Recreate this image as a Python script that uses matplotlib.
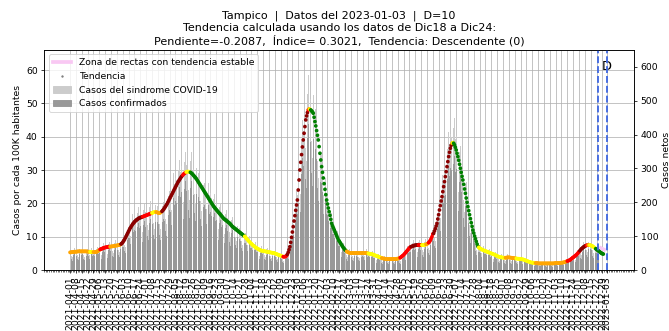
import matplotlib
matplotlib.use("Agg")
import matplotlib.pyplot as plt
import matplotlib.dates as mdates
from matplotlib.lines import Line2D
from matplotlib.patches import Patch
import numpy as np
import pandas as pd

ciudad = "Tampico"
fecha_datos = "2023-01-03"
fecha_corte = "2022-12-24"
inicio = "2021-04-01"
fin_ticks = "2022-12-29"
habitantes = 985000

# tendencia diaria (casos por cada 100K), desde 2021-04-01
tendencia = [
    5.3, 5.3, 5.4, 5.4, 5.4, 5.5, 5.5,
    5.5, 5.5, 5.6, 5.6, 5.6, 5.6, 5.6,
    5.6, 5.6, 5.6, 5.6, 5.6, 5.6, 5.6,
    5.5, 5.5, 5.5, 5.5, 5.4, 5.4, 5.4,
    5.4, 5.4, 5.4, 5.4, 5.5, 5.6, 5.8,
    6.0, 6.2, 6.3, 6.4, 6.5, 6.6, 6.7,
    6.8, 6.8, 6.9, 6.9, 7.0, 7.0, 7.0,
    7.1, 7.1, 7.1, 7.2, 7.2, 7.3, 7.3,
    7.4, 7.4, 7.5, 7.5, 7.6, 7.8, 8.0,
    8.3, 8.7, 9.1, 9.6, 10.1, 10.6, 11.1,
    11.6, 12.1, 12.6, 13.0, 13.4, 13.8, 14.1,
    14.4, 14.7, 14.9, 15.1, 15.3, 15.5, 15.6,
    15.7, 15.8, 15.9, 16.0, 16.1, 16.2, 16.3,
    16.4, 16.5, 16.6, 16.7, 16.8, 16.9, 17.0,
    17.1, 17.2, 17.3, 17.4, 17.4, 17.4, 17.3,
    17.2, 17.1, 17.1, 17.2, 17.4, 17.6, 17.9,
    18.2, 18.6, 19.0, 19.4, 19.8, 20.3, 20.8,
    21.3, 21.8, 22.3, 22.8, 23.3, 23.8, 24.3,
    24.8, 25.3, 25.8, 26.3, 26.7, 27.1, 27.5,
    27.9, 28.2, 28.5, 28.8, 29.0, 29.2, 29.4,
    29.5, 29.5, 29.5, 29.4, 29.3, 29.1, 28.9,
    28.6, 28.3, 28.0, 27.7, 27.4, 27.0, 26.6,
    26.2, 25.8, 25.4, 25.0, 24.6, 24.2, 23.8,
    23.4, 23.0, 22.6, 22.2, 21.8, 21.4, 21.0,
    20.6, 20.2, 19.8, 19.4, 19.0, 18.7, 18.4,
    18.1, 17.8, 17.5, 17.2, 16.9, 16.6, 16.3,
    16.0, 15.7, 15.4, 15.2, 15.0, 14.8, 14.6,
    14.4, 14.2, 14.0, 13.7, 13.4, 13.1, 12.9,
    12.7, 12.5, 12.3, 12.1, 11.9, 11.7, 11.5,
    11.3, 11.1, 10.9, 10.7, 10.5, 10.3, 10.1,
    9.8, 9.5, 9.2, 8.9, 8.6, 8.4, 8.1,
    7.9, 7.6, 7.4, 7.2, 7.0, 6.8, 6.6,
    6.5, 6.3, 6.2, 6.0, 5.9, 5.8, 5.8,
    5.7, 5.7, 5.6, 5.6, 5.5, 5.5, 5.4,
    5.4, 5.3, 5.3, 5.2, 5.2, 5.1, 5.1,
    5.0, 4.9, 4.8, 4.7, 4.6, 4.5, 4.4,
    4.3, 4.2, 4.1, 4.0, 4.0, 4.0, 4.1,
    4.3, 4.7, 5.3, 6.1, 7.0, 8.3, 9.8,
    11.4, 13.0, 14.7, 16.3, 17.9, 19.5, 21.0,
    24.0, 27.0, 30.0, 32.3, 34.6, 36.9, 39.0,
    41.0, 43.0, 45.0, 46.2, 47.2, 48.0, 48.3,
    48.2, 48.0, 47.7, 47.4, 47.0, 45.8, 44.5,
    43.2, 41.8, 40.4, 39.0, 37.0, 35.0, 33.0,
    31.0, 29.3, 27.6, 25.9, 24.2, 22.6, 21.0,
    19.8, 18.6, 17.5, 16.4, 15.2, 14.0, 13.3,
    12.7, 12.1, 11.5, 10.9, 10.3, 9.7, 9.1,
    8.7, 8.3, 7.9, 7.5, 7.1, 6.7, 6.4,
    6.1, 5.8, 5.6, 5.4, 5.3, 5.2, 5.1,
    5.1, 5.1, 5.1, 5.1, 5.1, 5.1, 5.1,
    5.1, 5.1, 5.1, 5.1, 5.1, 5.1, 5.1,
    5.1, 5.1, 5.1, 5.1, 5.1, 5.1, 5.0,
    5.0, 4.9, 4.9, 4.8, 4.8, 4.7, 4.6,
    4.5, 4.4, 4.3, 4.2, 4.1, 4.0, 3.9,
    3.8, 3.7, 3.6, 3.5, 3.5, 3.4, 3.4,
    3.3, 3.3, 3.3, 3.3, 3.3, 3.3, 3.3,
    3.3, 3.3, 3.3, 3.3, 3.3, 3.3, 3.4,
    3.4, 3.5, 3.6, 3.7, 3.9, 4.1, 4.3,
    4.5, 4.8, 5.1, 5.4, 5.7, 6.0, 6.3,
    6.6, 6.9, 7.0, 7.1, 7.2, 7.3, 7.4,
    7.4, 7.5, 7.5, 7.5, 7.5, 7.5, 7.5,
    7.5, 7.5, 7.5, 7.5, 7.5, 7.6, 7.7,
    7.8, 8.0, 8.2, 8.5, 8.9, 9.4, 10.0,
    10.8, 11.0, 11.7, 12.4, 13.2, 14.0, 15.3,
    16.6, 18.0, 19.3, 20.7, 22.0, 23.5, 25.0,
    26.5, 28.0, 29.5, 31.0, 32.5, 34.0, 35.3,
    36.5, 37.4, 38.0, 38.2, 38.0, 37.5, 36.8,
    36.0, 35.0, 34.0, 32.9, 31.7, 30.5, 29.3,
    28.1, 27.0, 25.7, 24.3, 23.0, 21.6, 20.3,
    19.0, 17.8, 16.6, 15.4, 14.2, 13.1, 12.0,
    11.1, 10.2, 9.4, 8.6, 7.8, 7.1, 6.8,
    6.6, 6.4, 6.3, 6.1, 6.0, 5.9, 5.8,
    5.7, 5.6, 5.5, 5.4, 5.3, 5.2, 5.1,
    5.0, 4.9, 4.8, 4.7, 4.6, 4.5, 4.3,
    4.2, 4.1, 4.0, 3.9, 3.9, 3.8, 3.8,
    3.7, 3.7, 3.7, 3.7, 3.7, 3.8, 3.8,
    3.8, 3.8, 3.7, 3.7, 3.6, 3.6, 3.6,
    3.5, 3.5, 3.5, 3.4, 3.4, 3.4, 3.3,
    3.3, 3.3, 3.2, 3.2, 3.1, 3.0, 2.9,
    2.8, 2.7, 2.6, 2.5, 2.4, 2.3, 2.3,
    2.2, 2.2, 2.2, 2.1, 2.1, 2.1, 2.1,
    2.0, 2.0, 2.0, 2.0, 2.0, 2.0, 2.0,
    2.0, 2.0, 2.0, 2.0, 2.0, 2.0, 2.0,
    2.0, 2.0, 2.0, 2.0, 2.0, 2.0, 2.1,
    2.1, 2.1, 2.1, 2.1, 2.1, 2.1, 2.2,
    2.2, 2.2, 2.3, 2.3, 2.4, 2.5, 2.6,
    2.7, 2.8, 2.9, 3.0, 3.2, 3.4, 3.6,
    3.8, 4.0, 4.2, 4.4, 4.6, 4.9, 5.2,
    5.5, 5.8, 6.1, 6.4, 6.6, 6.8, 7.0,
    7.2, 7.3, 7.4, 7.5, 7.5, 7.5, 7.5,
    7.4, 7.3, 7.2, 7.0, 6.8, 6.6, 6.4,
    6.2, 6.0, 5.8, 5.6, 5.4, 5.2, 5.0,
    4.9, 4.8,
]

# clasificacion de la tendencia: fecha en que empieza cada tramo
tramo_inicio = [
    "2021-04-01", "2021-04-25", "2021-04-29", "2021-05-07", "2021-05-19",
    "2021-06-01", "2021-06-27", "2021-07-08", "2021-07-13", "2021-07-20",
    "2021-08-14", "2021-08-18", "2021-08-23", "2021-10-27", "2021-12-12",
    "2021-12-17", "2022-01-11", "2022-01-12", "2022-01-13", "2022-01-14",
    "2022-02-26", "2022-03-24", "2022-04-09", "2022-05-01", "2022-05-14",
    "2022-05-23", "2022-05-27", "2022-06-01", "2022-06-04", "2022-06-10",
    "2022-07-02", "2022-07-03", "2022-07-04", "2022-08-03", "2022-09-04",
    "2022-09-17", "2022-10-10", "2022-11-17", "2022-12-02", "2022-12-10",
    "2022-12-12", "2022-12-14", "2022-12-21",
]
tramo_clase = [
    "estable", "meseta", "estable", "sube", "estable",
    "sube_fuerte", "sube", "meseta", "estable", "sube_fuerte",
    "sube", "meseta", "baja", "meseta", "sube",
    "sube_fuerte", "sube", "estable", "meseta", "baja",
    "estable", "meseta", "estable", "sube", "sube_fuerte",
    "sube", "meseta", "estable", "sube", "sube_fuerte",
    "estable", "meseta", "baja", "meseta", "estable",
    "meseta", "estable", "sube", "sube_fuerte", "sube",
    "estable", "meseta", "baja",
]
colores_clase = {"estable": "orange", "meseta": "yellow", "sube": "red",
                 "sube_fuerte": "darkred", "baja": "green"}

# casos netos diarios, desde 2021-04-01 (semanas de jueves a miercoles)
casos_sindrome = [
    58, 56, 43, 38, 59, 66, 58, 61, 58, 45, 39, 62, 67, 59,
    60, 61, 44, 40, 63, 66, 57, 61, 58, 44, 39, 59, 65, 57,
    59, 57, 43, 38, 61, 67, 61, 66, 65, 50, 45, 72, 79, 70,
    75, 71, 55, 48, 77, 84, 74, 78, 75, 57, 50, 79, 88, 77,
    81, 78, 60, 53, 84, 94, 84, 91, 91, 73, 67, 111, 127, 117,
    128, 127, 101, 91, 147, 166, 148, 158, 154, 119, 106, 168, 186, 164,
    173, 166, 127, 112, 177, 194, 171, 180, 173, 133, 117, 185, 203, 179,
    188, 181, 138, 122, 191, 209, 182, 189, 180, 137, 120, 191, 211, 188,
    200, 195, 152, 136, 218, 244, 218, 234, 229, 178, 160, 256, 286, 255,
    273, 266, 206, 184, 294, 325, 289, 307, 296, 228, 202, 319, 350, 309,
    325, 310, 236, 206, 322, 349, 303, 315, 297, 224, 194, 301, 324, 279,
    288, 271, 203, 175, 271, 290, 250, 257, 242, 181, 155, 240, 257, 221,
    227, 212, 158, 136, 209, 224, 193, 199, 187, 140, 120, 186, 199, 171,
    176, 165, 123, 106, 165, 178, 153, 158, 149, 112, 96, 147, 157, 135,
    140, 131, 98, 85, 131, 140, 121, 124, 117, 87, 75, 116, 124, 106,
    108, 100, 74, 62, 95, 101, 85, 87, 80, 59, 50, 77, 82, 69,
    72, 66, 50, 42, 65, 70, 61, 63, 60, 45, 39, 61, 66, 57,
    59, 56, 42, 36, 57, 61, 54, 55, 51, 38, 33, 51, 54, 46,
    47, 44, 33, 28, 44, 48, 43, 47, 49, 42, 43, 77, 100, 103,
    125, 137, 118, 114, 197, 234, 221, 264, 284, 240, 226, 381, 443, 410,
    451, 452, 360, 323, 519, 576, 507, 530, 504, 382, 332, 517, 550, 467,
    475, 439, 323, 273, 407, 420, 347, 341, 308, 221, 181, 266, 271, 221,
    218, 195, 140, 115, 167, 168, 140, 140, 127, 92, 76, 113, 116, 96,
    96, 87, 63, 53, 78, 80, 67, 67, 61, 45, 38, 58, 62, 54,
    56, 54, 41, 36, 56, 61, 54, 57, 53, 40, 37, 55, 62, 53,
    56, 54, 41, 35, 56, 61, 53, 55, 51, 39, 34, 53, 56, 48,
    50, 46, 34, 29, 45, 48, 41, 42, 39, 29, 25, 39, 41, 36,
    36, 35, 26, 23, 36, 40, 35, 36, 35, 26, 23, 36, 40, 36,
    37, 37, 29, 26, 43, 49, 45, 50, 50, 41, 38, 63, 72, 66,
    73, 72, 56, 50, 79, 88, 78, 81, 79, 60, 53, 83, 90, 79,
    83, 79, 60, 52, 83, 91, 81, 86, 84, 66, 60, 98, 113, 105,
    119, 116, 94, 87, 145, 168, 161, 183, 189, 154, 145, 242, 282, 263,
    292, 294, 236, 217, 358, 408, 371, 402, 393, 304, 267, 418, 450, 386,
    396, 368, 272, 230, 349, 366, 308, 309, 284, 206, 170, 253, 259, 213,
    209, 187, 133, 108, 156, 157, 126, 122, 107, 75, 60, 86, 85, 71,
    73, 67, 50, 43, 66, 71, 61, 63, 59, 44, 38, 58, 62, 54,
    55, 51, 38, 33, 51, 54, 45, 46, 43, 32, 27, 43, 46, 40,
    41, 39, 30, 26, 41, 46, 40, 42, 40, 30, 26, 40, 43, 38,
    39, 37, 28, 24, 37, 41, 35, 36, 35, 26, 22, 34, 36, 30,
    31, 28, 21, 18, 26, 28, 24, 24, 23, 18, 15, 23, 25, 22,
    22, 21, 16, 14, 22, 24, 21, 23, 20, 15, 14, 21, 25, 22,
    22, 21, 16, 14, 22, 24, 22, 23, 22, 17, 15, 23, 25, 23,
    24, 23, 18, 16, 26, 30, 27, 30, 29, 23, 21, 35, 41, 38,
    42, 42, 34, 31, 51, 59, 55, 61, 61, 49, 45, 73, 82, 74,
    79, 77, 59, 53, 83, 90, 79, 81, 77, 58, 49, 75, 79, 67,
    68, 63, 46,
]
casos_confirmados = [
    44, 42, 32, 28, 44, 50, 43, 46, 43, 34, 29, 46, 50, 44,
    45, 46, 33, 30, 47, 49, 43, 46, 43, 33, 29, 44, 49, 43,
    44, 43, 32, 28, 46, 50, 46, 50, 49, 38, 34, 54, 59, 53,
    56, 54, 41, 36, 58, 63, 55, 59, 56, 43, 38, 59, 66, 58,
    61, 58, 45, 39, 63, 70, 63, 68, 69, 55, 50, 83, 95, 88,
    96, 95, 76, 68, 110, 124, 111, 119, 116, 89, 79, 126, 140, 123,
    130, 124, 95, 84, 133, 146, 128, 135, 130, 100, 88, 139, 152, 134,
    141, 136, 104, 91, 143, 157, 136, 142, 135, 103, 90, 143, 158, 141,
    150, 146, 114, 102, 163, 183, 164, 176, 172, 134, 120, 192, 214, 191,
    205, 199, 155, 138, 220, 244, 217, 230, 222, 171, 151, 239, 263, 232,
    243, 232, 177, 154, 242, 262, 228, 236, 223, 168, 145, 226, 243, 210,
    216, 203, 152, 131, 203, 218, 187, 193, 181, 136, 117, 180, 193, 165,
    170, 159, 119, 102, 157, 168, 145, 149, 140, 105, 90, 139, 149, 128,
    132, 124, 92, 80, 124, 133, 115, 119, 112, 84, 72, 110, 118, 102,
    105, 98, 74, 64, 98, 105, 90, 93, 87, 65, 56, 87, 93, 80,
    81, 75, 55, 47, 71, 76, 64, 65, 60, 44, 38, 58, 61, 52,
    54, 50, 37, 32, 49, 52, 46, 47, 45, 34, 29, 45, 50, 43,
    45, 42, 32, 27, 43, 46, 40, 41, 39, 29, 25, 38, 41, 35,
    35, 33, 25, 21, 33, 36, 32, 35, 37, 32, 32, 58, 75, 77,
    94, 103, 88, 86, 148, 176, 165, 198, 213, 180, 170, 285, 332, 307,
    338, 339, 270, 243, 389, 432, 380, 398, 378, 286, 249, 388, 412, 350,
    356, 329, 242, 205, 305, 315, 260, 256, 231, 166, 136, 200, 203, 165,
    163, 146, 105, 86, 125, 126, 105, 105, 95, 69, 57, 85, 87, 72,
    72, 65, 47, 40, 59, 60, 50, 50, 46, 34, 28, 44, 47, 40,
    42, 40, 31, 27, 42, 46, 40, 43, 40, 30, 27, 41, 47, 40,
    42, 40, 31, 27, 42, 46, 39, 41, 39, 29, 25, 40, 42, 36,
    37, 35, 26, 22, 34, 36, 31, 31, 29, 22, 18, 29, 31, 27,
    27, 26, 20, 17, 27, 30, 26, 27, 26, 20, 17, 27, 30, 27,
    28, 28, 22, 19, 32, 37, 34, 37, 38, 31, 28, 47, 54, 50,
    54, 54, 42, 37, 59, 66, 58, 61, 59, 45, 39, 62, 68, 59,
    62, 59, 45, 39, 62, 68, 61, 64, 63, 49, 45, 73, 85, 79,
    89, 87, 70, 65, 109, 126, 120, 137, 142, 116, 109, 182, 212, 197,
    219, 221, 177, 163, 268, 306, 278, 301, 294, 228, 200, 313, 338, 290,
    297, 276, 204, 173, 261, 275, 231, 232, 213, 154, 128, 190, 194, 160,
    157, 140, 100, 81, 117, 118, 95, 92, 80, 56, 45, 64, 64, 54,
    54, 50, 38, 32, 50, 53, 46, 47, 44, 33, 28, 44, 47, 40,
    41, 39, 29, 25, 38, 41, 34, 35, 32, 24, 20, 32, 34, 30,
    31, 29, 22, 19, 31, 34, 30, 31, 30, 22, 19, 30, 32, 28,
    29, 28, 21, 18, 28, 31, 26, 27, 26, 19, 17, 26, 27, 23,
    23, 21, 16, 13, 20, 21, 18, 18, 17, 13, 11, 17, 19, 17,
    17, 16, 12, 11, 17, 18, 16, 17, 15, 11, 10, 16, 19, 16,
    16, 16, 12, 10, 16, 18, 17, 17, 17, 13, 11, 17, 19, 17,
    18, 17, 14, 12, 20, 23, 20, 22, 22, 17, 16, 26, 31, 28,
    31, 32, 25, 23, 38, 44, 41, 45, 46, 37, 34, 54, 61, 55,
    59, 58, 44, 39, 62, 68, 59, 61, 58, 43, 37, 56, 59, 50,
    51, 47, 35,
]

zona_fechas = ["2022-12-27", "2022-12-31"]
zona_valores = [6.6, 6.1]

factor = habitantes / 100000
fechas_t = pd.date_range(inicio, periods=len(tendencia), freq="D")
fechas_c = pd.date_range(inicio, periods=len(casos_sindrome), freq="D")

idx = np.searchsorted(pd.to_datetime(tramo_inicio).values, fechas_t.values, side="right") - 1
colores_t = [colores_clase[tramo_clase[i]] for i in idx]

fig = plt.figure(figsize=(10, 4.95), dpi=66.9)
ax = fig.add_axes([0.066, 0.184, 0.882, 0.665])
ax2 = ax.twinx()

ax.bar(fechas_c, np.array(casos_sindrome) / factor, width=0.8, color="#cccccc", zorder=1)
ax.bar(fechas_c, np.array(casos_confirmados) / factor, width=0.8, color="#999999", zorder=1)
ax.plot(pd.to_datetime(zona_fechas), zona_valores, color="#f9c8f3", lw=4, zorder=2)
ax.scatter(fechas_t, tendencia, c=colores_t, s=16, linewidths=0, zorder=3)

for f in [fecha_corte, fecha_datos]:
    ax.axvline(pd.Timestamp(f), color="royalblue", ls="--", lw=2, zorder=4)
ax.text(pd.Timestamp(fecha_datos), 61, "D", fontsize=14, ha="center", va="center")

ax.set_ylim(0, 66)
ax2.set_ylim(0, 66 * factor)
ax.set_xlim(pd.Timestamp("2021-03-01"), pd.Timestamp("2023-02-05"))

ticks = list(pd.date_range(inicio, fin_ticks, freq="7D")) + [pd.Timestamp(fecha_datos)]
ax.set_xticks(ticks)
ax.set_xticklabels([t.strftime("%Y-%m-%d") for t in ticks], rotation=90)
ax.xaxis.set_minor_locator(mdates.DayLocator(interval=2))
ax.tick_params(axis="x", which="minor", length=2, width=0.6)
ax.set_yticks(range(0, 61, 10))
ax2.set_yticks(range(0, 601, 100))
ax.grid(True, color="#b0b0b0", lw=0.8, zorder=0)
ax.set_axisbelow(True)

ax.set_ylabel("Casos por cada 100K habitantes")
ax2.set_ylabel("Casos netos")

ax.set_title(f"{ciudad}  |  Datos del {fecha_datos}  |  D=10\n"
             "Tendencia calculada usando los datos de Dic18 a Dic24:\n"
             "Pendiente=-0.2087,  Índice= 0.3021,  Tendencia: Descendente (0)")

handles = [
    Line2D([], [], color="#f9c8f3", lw=4),
    Line2D([], [], marker=".", ls="", color="gray", markersize=3),
    Patch(color="#cccccc"),
    Patch(color="#999999"),
]
etiquetas = ["Zona de rectas con tendencia estable", "Tendencia",
             "Casos del sindrome COVID-19", "Casos confirmados"]
ax.legend(handles, etiquetas, loc="upper left")

fig.savefig("out.png", dpi=66.9)
